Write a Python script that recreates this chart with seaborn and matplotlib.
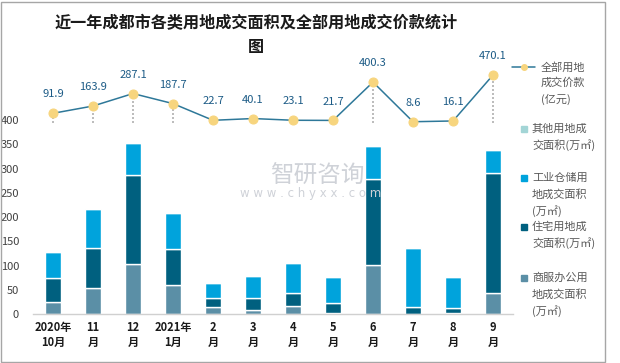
import matplotlib
matplotlib.use("Agg")
import matplotlib.pyplot as plt
import seaborn as sns
import numpy as np
import pandas as pd
from matplotlib.patches import Rectangle
from matplotlib.lines import Line2D

sns.set_theme(style="white")
plt.rcParams['font.family'] = ['Noto Sans CJK SC', 'DejaVu Sans']

months = ["2020年\n10月", "11\n月", "12\n月", "2021年\n1月", "2\n月", "3\n月",
          "4\n月", "5\n月", "6\n月", "7\n月", "8\n月", "9\n月"]
commercial = [25, 54, 103, 60, 15, 9, 17, 3, 101, 1, 3, 44]
residential = [49.5, 82, 184.5, 74, 18.5, 24.5, 27, 20.5, 177, 14, 10, 246]
industrial = [53, 80, 65.5, 74, 30.7, 45, 61.5, 53, 69, 121, 63.5, 49]
other = [0, 0, 0, 0, 2, 0, 0, 0, 0, 2, 0, 0]
price = [91.9, 163.9, 287.1, 187.7, 22.7, 40.1, 23.1, 21.7, 400.3, 8.6, 16.1, 470.1]

c_com = "#5B8FA6"
c_res = "#00607F"
c_ind = "#00A3DC"
c_oth = "#A3D5D6"
c_line = "#2E7899"
c_mark = "#F7D57E"
c_lab = "#1C5B86"

df = pd.DataFrame({"month": months, "com": commercial, "res": residential,
                   "ind": industrial, "oth": other, "price": price})
df["b_res"] = df["com"]
df["b_ind"] = df["com"] + df["res"]
df["b_oth"] = df["b_ind"] + df["ind"]

fig = plt.figure(figsize=(6.2, 3.63), dpi=100)

# watermark (behind everything)
fig.text(270/620, 1-176/363, "智研咨询", fontsize=17, color="#cfd2d8", ha="left", va="center", zorder=0)
fig.text(240/620, 1-193/363, "w w w . c h y x x . c o m", fontsize=8.5, color="#cfd2d8",
         ha="left", va="center", family="DejaVu Sans", zorder=0)

ax = fig.add_axes([33/620, 1-314.3/363, 480/620, (314.3-55)/363])
ax.patch.set_alpha(0)

x = np.arange(len(months))
w = 0.4
ax.bar(x, df["com"], width=w, color=c_com, zorder=2)
ax.bar(x, df["res"], width=w, bottom=df["b_res"], color=c_res, zorder=2)
ax.bar(x, df["ind"], width=w, bottom=df["b_ind"], color=c_ind, zorder=2)
ax.bar(x, df["oth"], width=w, bottom=df["b_oth"], color=c_oth, zorder=2)

ax.set_xlim(-0.5, 11.5)
ax.set_ylim(0, (314.3-55)/0.4858)
ax.set_yticks(np.arange(0, 401, 50))
ax.tick_params(axis='y', labelsize=8, colors="#404040", length=0, pad=10)
ax.set_xticks(x)
ax.set_xticklabels(months, fontsize=8, fontweight='bold', color="#1a1a1a")
ax.tick_params(axis='x', length=0, pad=5)
ax.set_xticks(np.arange(-0.5, 12, 1), minor=True)
ax.tick_params(axis='x', which='minor', length=4, color="#d0d0d0", width=1, direction='out')
for s in ["top", "right", "left"]:
    ax.spines[s].set_visible(False)
ax.spines["bottom"].set_color("#d0d0d0")
ax.spines["bottom"].set_linewidth(1)

ax2 = ax.twinx()
ax2.set_ylim(-(314.3-122.6)/0.1012, (122.6-55)/0.1012)
ax2.vlines(x, 0, df["price"], colors="#b0b0b0", linestyles=(0, (1.2, 1.2)), linewidth=1.2, zorder=1)
sns.lineplot(x=x, y=df["price"], ax=ax2, color=c_line, linewidth=1.1, zorder=3,
             marker="o", markersize=6.5, markerfacecolor=c_mark, markeredgecolor=c_mark)
for xi, v in zip(x, price):
    ax2.annotate(f"{v:.1f}", (xi, v), xytext=(0, 10), textcoords="offset points",
                 ha="center", va="bottom", fontsize=8, color=c_lab)
ax2.set_yticks([])
ax2.set_ylabel("")
for s in ax2.spines.values():
    s.set_visible(False)

# title
fig.text(256/620, 1-23/363, "近一年成都市各类用地成交面积及全部用地成交价款统计", fontsize=11.6,
         fontweight='bold', ha="center", va="center", color="#1a1a1a")
fig.text(256/620, 1-47/363, "图", fontsize=11.6, fontweight='bold', ha="center", va="center", color="#1a1a1a")

# legend (manual)
lc = "#595959"
fs = 8
def fy(y):
    return 1 - y/363
fig.add_artist(Line2D([512/620, 535/620], [fy(67), fy(67)], color=c_line, linewidth=1.1))
fig.add_artist(Line2D([524/620], [fy(67)], marker="o", markersize=4, color=c_mark, linestyle="none"))
for i, t in enumerate(["全部用地", "成交价款", "(亿元)"]):
    fig.text(541/620, fy(67 + 16*i), t, fontsize=fs, color=lc, va="center", ha="left")

entries = [
    (c_oth, 129, ["其他用地成", "交面积(万㎡)"]),
    (c_ind, 178, ["工业仓储用", "地成交面积", "(万㎡)"]),
    (c_res, 227, ["住宅用地成", "交面积(万㎡)"]),
    (c_com, 278, ["商服办公用", "地成交面积", "(万㎡)"]),
]
for col, y0, lines in entries:
    fig.add_artist(Rectangle((521/620, fy(y0+3)), 6/620, 6/363, color=col, transform=fig.transFigure))
    for i, t in enumerate(lines):
        fig.text(532/620, fy(y0 + 16.5*i), t, fontsize=fs, color=lc, va="center", ha="left")

# border
fig.add_artist(Rectangle((0.5/620, fy(361.5)), 604.5/620, 360/363, fill=False,
                         edgecolor="#a6a6a6", linewidth=1, transform=fig.transFigure))

fig.savefig("out.png", dpi=100)
